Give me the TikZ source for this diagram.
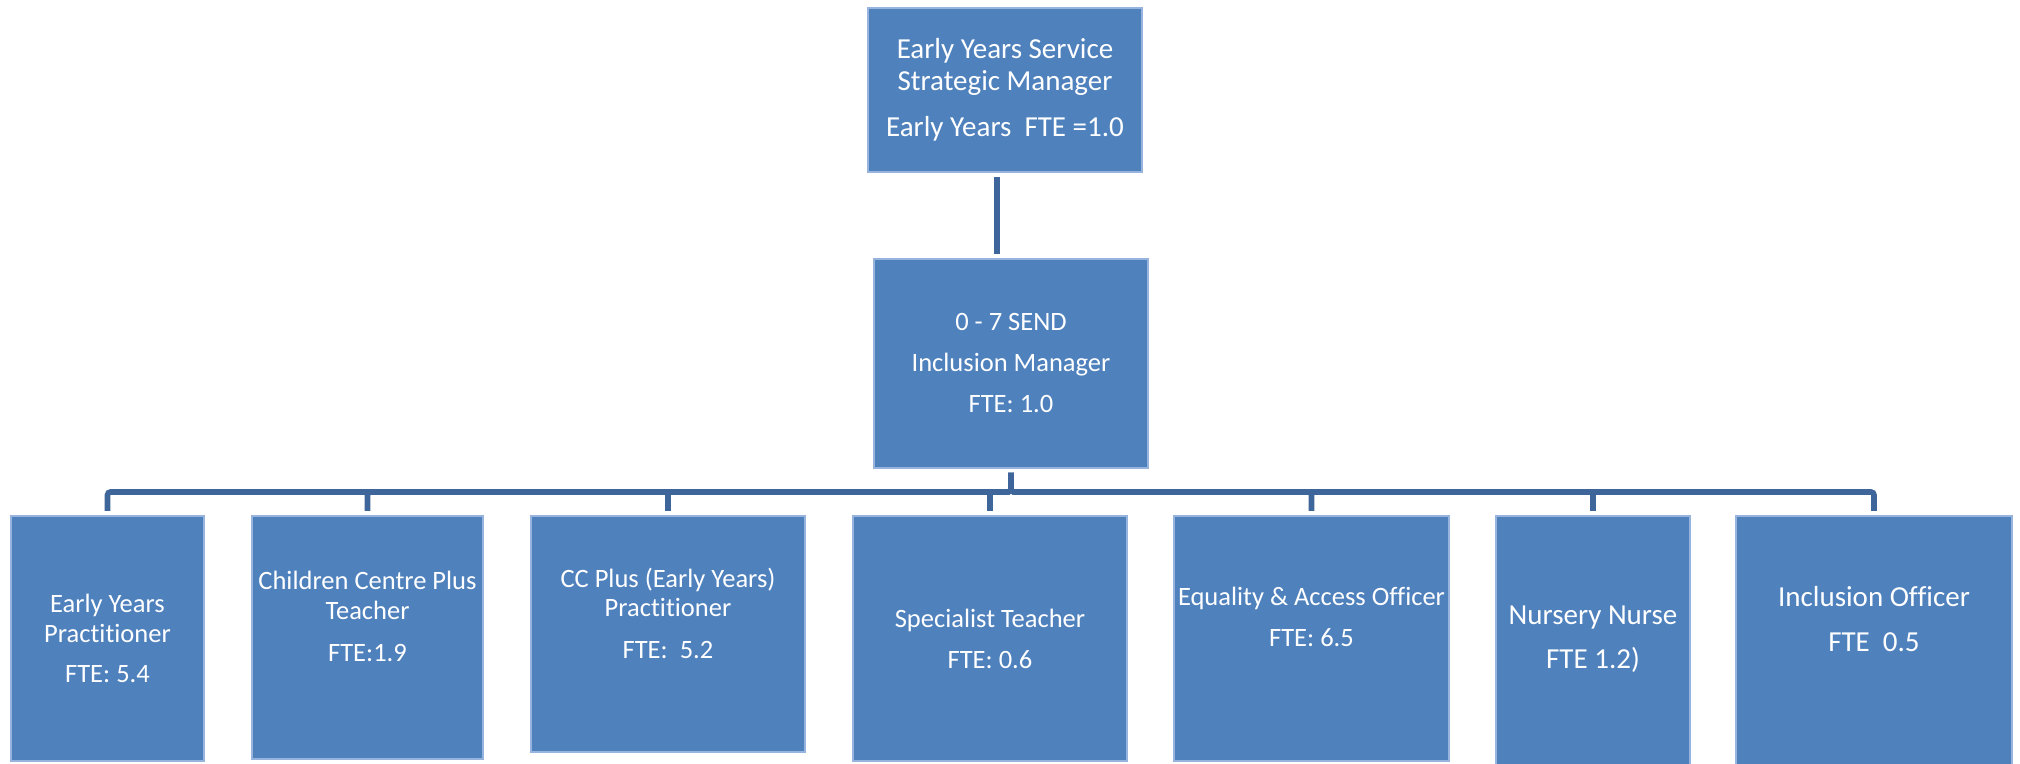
\documentclass[tikz,border=0pt]{standalone}
\usepackage{fontspec}
\setmainfont{Carlito}[Ligatures=CommonOff]
\definecolor{boxblue}{RGB}{79,129,189}
\definecolor{boxedge}{RGB}{150,180,222}
\definecolor{linkblue}{RGB}{62,102,154}
% zero-width strut that lowers the bottom of a node's text
\newcommand{\pushup}[1]{\rule[-#1]{0pt}{#1}}
\tikzset{
  post/.style={draw=boxedge, line width=0.6pt, fill=boxblue, text=white,
    align=center, inner sep=0pt, outer sep=0pt,
    font=\fontsize{13.25pt}{14.75pt}\selectfont},
  bigpost/.style={post, font=\fontsize{14.5pt}{16pt}\selectfont},
  link/.style={draw=linkblue, line width=2.8pt, shorten <=2.5pt,
    shorten >=2.5pt, rounded corners=1.5pt}
}
\begin{document}
\begin{tikzpicture}[x=0.5pt, y=-0.5pt]
        \useasboundingbox (0,0) rectangle (2020,764);
        % managers
        \node[bigpost, minimum width=137pt, minimum height=82pt] (strategic) at (1005,90)
            {Early Years Service\\Strategic Manager\\[7pt]Early Years~~FTE =1.0};
        \node[post, minimum width=137pt, minimum height=104.5pt] (send) at (1011,363.5)
            {0 - 7 SEND\\[5.75pt]Inclusion Manager\\[5.75pt]FTE: 1.0};
        % team
        \node[post, minimum width=96.5pt, minimum height=122.5pt] (practitioner) at (107.5,638.5)
            {Early Years\\Practitioner\\[5.25pt]FTE: 5.4};
        \node[post, minimum width=115.5pt, minimum height=121.5pt] (ccteacher) at (367.5,637.5)
            {Children Centre Plus\\Teacher\\[6.5pt]FTE:1.9\pushup{21pt}};
        \node[post, minimum width=137pt, minimum height=118pt] (ccpractitioner) at (668,634)
            {CC Plus (Early Years)\\Practitioner\\[6pt]FTE:~~5.2\pushup{21pt}};
        \node[post, minimum width=137pt, minimum height=122.5pt] (specialist) at (990,638.5)
            {Specialist Teacher\\[5.75pt]FTE: 0.6};
        \node[post, minimum width=137.5pt, minimum height=122.5pt] (equality) at (1311.5,638.5)
            {Equality \& Access Officer\\[5.75pt]FTE: 6.5\pushup{22pt}};
        \node[bigpost, minimum width=97pt, minimum height=127pt] (nurse) at (1593,643)
            {Nursery Nurse\\[6pt]FTE 1.2)\pushup{6pt}};
        \node[bigpost, minimum width=138pt, minimum height=127pt] (inclusion) at (1874,643)
            {Inclusion Officer\\[6.5pt]FTE~~0.5\pushup{24pt}};
        % lines
        \draw[link] ([xshift=-4pt]strategic.south) -- ([xshift=-4pt]strategic.south |- send.north);
        \draw[link] (send.south) -- ++(0,-12pt) -| (practitioner.north);
        \draw[link] (send.south) -- ++(0,-12pt) -| (ccteacher.north);
        \draw[link] (send.south) -- ++(0,-12pt) -| (ccpractitioner.north);
        \draw[link] (send.south) -- ++(0,-12pt) -| (specialist.north);
        \draw[link] (send.south) -- ++(0,-12pt) -| (equality.north);
        \draw[link] (send.south) -- ++(0,-12pt) -| (nurse.north);
        \draw[link] (send.south) -- ++(0,-12pt) -| (inclusion.north);
    \end{tikzpicture}
\end{document}
